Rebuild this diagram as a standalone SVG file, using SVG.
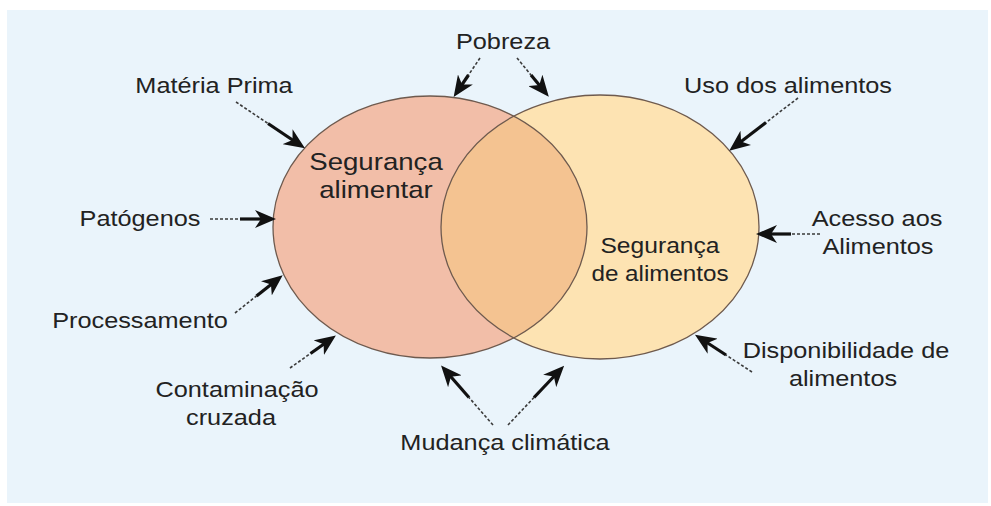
<svg xmlns="http://www.w3.org/2000/svg" width="991" height="506" viewBox="0 0 991 506">
<style>
.lbl{font-family:"Liberation Sans",Arial,sans-serif;font-size:22px;fill:#222;text-anchor:middle}
.inner{font-size:24px}
.dash{stroke:#3a3a3a;stroke-width:1.6;stroke-dasharray:3 2;fill:none}
.solid{stroke:#111;stroke-width:3.2;fill:none;marker-end:url(#ah)}
.ring{fill:none;stroke:#6e5a4e;stroke-width:1.3}
</style>
<defs>
<marker id="ah" viewBox="0 0 21 18" markerWidth="21" markerHeight="18" refX="15" refY="9" orient="auto" markerUnits="userSpaceOnUse">
<path d="M0,0 L21,9 L0,18 L6,9 Z" fill="#111"/>
</marker>
<clipPath id="clipL"><ellipse cx="430" cy="227" rx="157" ry="131"/></clipPath>
</defs>
<rect x="0" y="0" width="991" height="506" fill="#ffffff"/>
<rect x="7" y="10" width="981" height="493" fill="#eaf4fb"/>
<g id="venn">
<g id="node-seg-alimentar"><ellipse cx="430" cy="227" rx="157" ry="131" fill="#f2bea8"/></g>
<g id="node-seg-alimentos"><ellipse cx="600" cy="227" rx="159" ry="132" fill="#fde3b2"/></g>
<ellipse cx="600" cy="227" rx="159" ry="132" fill="#f4c391" clip-path="url(#clipL)"/>
<ellipse class="ring" cx="430" cy="227" rx="157" ry="131"/>
<ellipse class="ring" cx="600" cy="227" rx="159" ry="132"/>
<text class="lbl inner" transform="translate(376,170) scale(1.15,1)">Segurança</text>
<text class="lbl inner" transform="translate(376,198) scale(1.15,1)">alimentar</text>
<text class="lbl" transform="translate(660,253) scale(1.12,1)">Segurança</text>
<text class="lbl" transform="translate(660,281) scale(1.1,1)">de alimentos</text>
</g>
<g id="connectors">
<path class="dash" d="M236,102 L268,123.5"/><path class="solid" d="M268,123.5 L300,145"/>
<path class="dash" d="M210,219 L240,219"/><path class="solid" d="M240,219 L270,219"/>
<path class="dash" d="M235,313 L256.5,296"/><path class="solid" d="M256.5,296 L278,279"/>
<path class="dash" d="M290,368 L310.5,353.5"/><path class="solid" d="M310.5,353.5 L331,339"/>
<path class="dash" d="M480,58 L468.5,75"/><path class="solid" d="M468.5,75 L457,92"/>
<path class="dash" d="M517,58 L531,75"/><path class="solid" d="M531,75 L545,92"/>
<path class="dash" d="M798,98 L766,122.5"/><path class="solid" d="M766,122.5 L734,147"/>
<path class="dash" d="M820,234 L791,234"/><path class="solid" d="M791,234 L762,234"/>
<path class="dash" d="M752,372 L726,355"/><path class="solid" d="M726,355 L700,338"/>
<path class="dash" d="M493,425 L469,397.5"/><path class="solid" d="M469,397.5 L445,370"/>
<path class="dash" d="M508,425 L534,397.5"/><path class="solid" d="M534,397.5 L560,370"/>
</g>
<g id="node-pobreza"><text class="lbl" transform="translate(503,49) scale(1.15,1)">Pobreza</text></g>
<g id="node-materia"><text class="lbl" transform="translate(214,93) scale(1.15,1)">Matéria Prima</text></g>
<g id="node-uso"><text class="lbl" transform="translate(788,93) scale(1.15,1)">Uso dos alimentos</text></g>
<g id="node-patogenos"><text class="lbl" transform="translate(140,226) scale(1.15,1)">Patógenos</text></g>
<g id="node-processamento"><text class="lbl" transform="translate(140,328) scale(1.15,1)">Processamento</text></g>
<g id="node-contaminacao"><text class="lbl" transform="translate(237,397) scale(1.15,1)">Contaminação</text><text class="lbl" transform="translate(231,425) scale(1.15,1)">cruzada</text></g>
<g id="node-mudanca"><text class="lbl" transform="translate(505,450) scale(1.15,1)">Mudança climática</text></g>
<g id="node-acesso"><text class="lbl" transform="translate(877,226) scale(1.15,1)">Acesso aos</text><text class="lbl" transform="translate(878,254) scale(1.15,1)">Alimentos</text></g>
<g id="node-disponibilidade"><text class="lbl" transform="translate(846,358) scale(1.15,1)">Disponibilidade de</text><text class="lbl" transform="translate(843,386) scale(1.15,1)">alimentos</text></g>
</svg>
